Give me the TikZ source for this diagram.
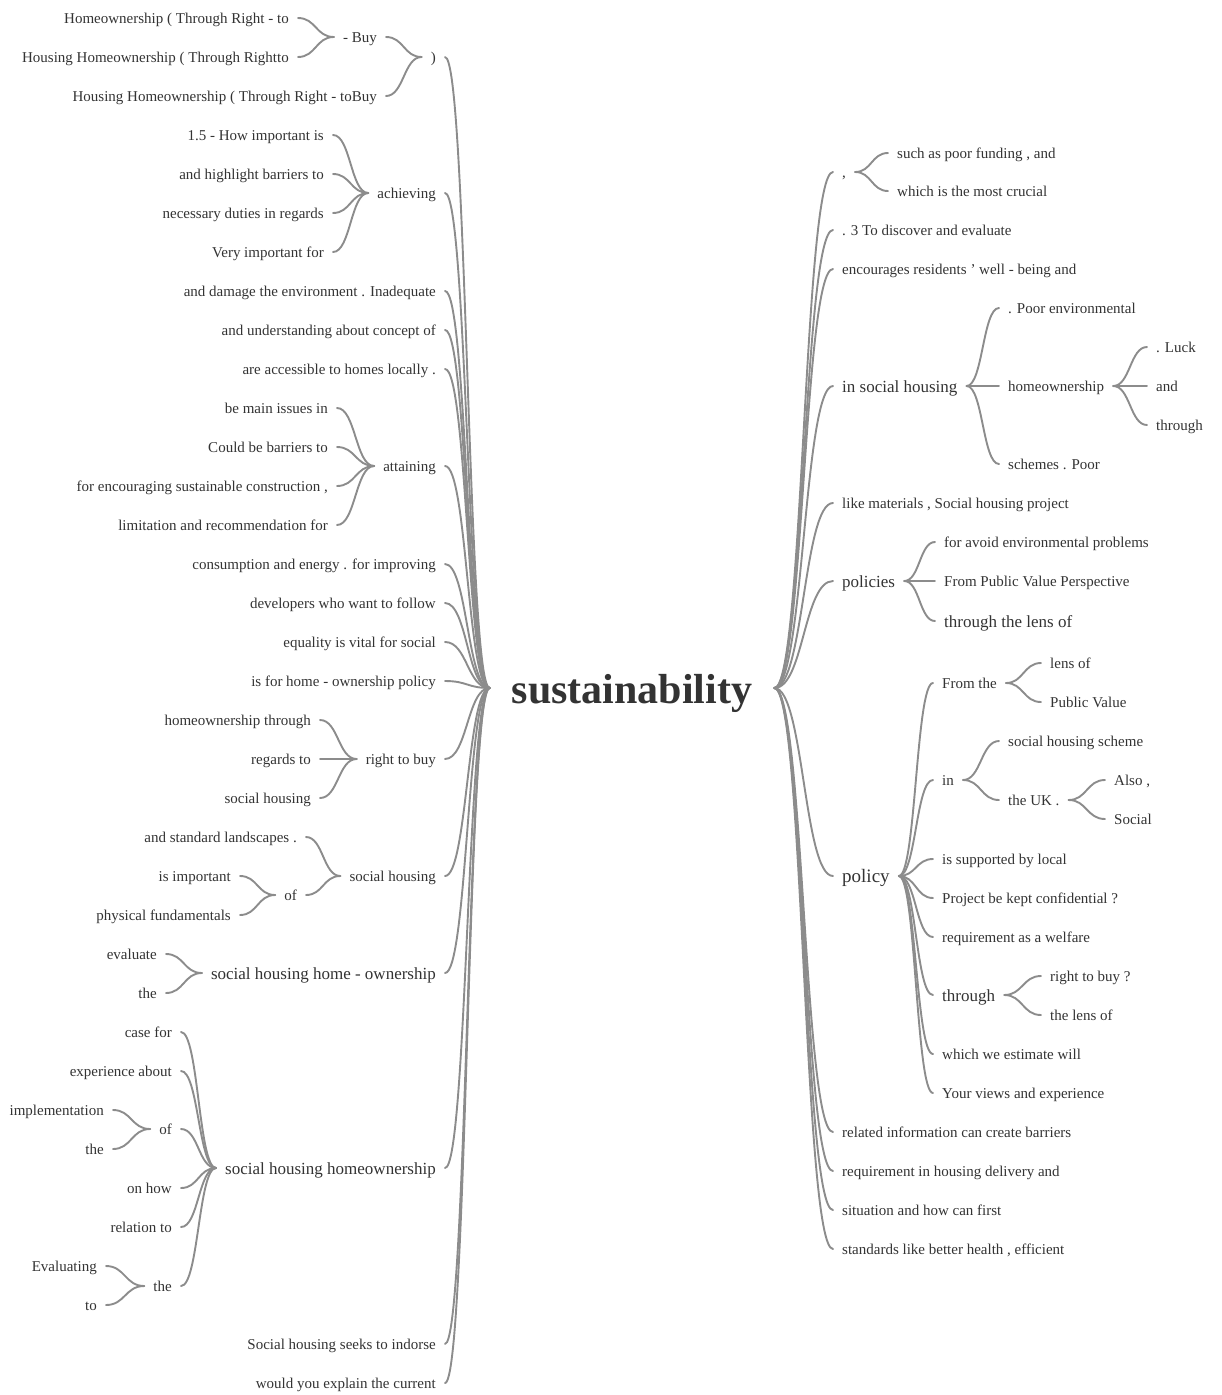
\documentclass[tikz,border=0pt]{standalone}
\usepackage{fontspec}
\setmainfont{Liberation Serif}
\usetikzlibrary{calc}
\definecolor{wordcol}{HTML}{333333}
\definecolor{linkcol}{HTML}{8C8C8C}
\tikzset{
  word/.style={font=\fontsize{15}{17}\selectfont, text=wordcol, inner xsep=9pt, inner ysep=0pt, text height=10.6pt, text depth=0pt},
  wl/.style={word, anchor=east},
  wr/.style={word, anchor=west},
  larger/.style={font=\fontsize{17}{20}\selectfont, text height=12pt},
  largest/.style={font=\fontsize{19}{22}\selectfont, text height=13.4pt},
  branch/.style={draw=linkcol, line width=1.9pt, line cap=round},
}
% cubic link with horizontal tangents at both ends
\newcommand\branchto[2]{%
  \path (#1) coordinate (bA) (#2) coordinate (bB);
  \draw[branch] let \p1=(bA), \p2=(bB) in (\p1) .. controls ({(\x1+\x2)/2},\y1) and ({(\x1+\x2)/2},\y2) .. (\p2);}
\begin{document}
\begin{tikzpicture}[x=1pt,y=-1pt]
\useasboundingbox (0,0) rectangle (1222,1395);

% root
\node[font=\bfseries\fontsize{42}{48}\selectfont, text=wordcol, inner xsep=22pt, inner ysep=0pt, text height=30pt, text depth=0pt] (root) at (632,688) {sustainability};

% ---------- left branch ----------
\node[wl] (L1) at (445,57) {)};
\node[wl] (L2) at (445,193) {achieving};
\node[wl] (L3) at (445,291) {and damage the environment . Inadequate};
\node[wl] (L4) at (445,330) {and understanding about concept of};
\node[wl] (L5) at (445,369) {are accessible to homes locally .};
\node[wl] (L6) at (445,466) {attaining};
\node[wl] (L7) at (445,564) {consumption and energy . for improving};
\node[wl] (L8) at (445,603) {developers who want to follow};
\node[wl] (L9) at (445,642) {equality is vital for social};
\node[wl] (L10) at (445,681) {is for home - ownership policy};
\node[wl] (L11) at (445,759) {right to buy};
\node[wl] (L12) at (445,876) {social housing};
\node[wl,larger] (L13) at (445,973) {social housing home - ownership};
\node[wl,larger] (L14) at (445,1168) {social housing homeownership};
\node[wl] (L15) at (445,1344) {Social housing seeks to indorse};
\node[wl] (L16) at (445,1383) {would you explain the current};

\node[wl] (L1a) at (386,37) {- Buy};
\node[wl] (L1b) at (386,96) {Housing Homeownership ( Through Right - toBuy};
\node[wl] (L1a1) at (298,18) {Homeownership ( Through Right - to};
\node[wl] (L1a2) at (298,57) {Housing Homeownership ( Through Rightto};

\node[wl] (L2a) at (333,135) {1.5 - How important is};
\node[wl] (L2b) at (333,174) {and highlight barriers to};
\node[wl] (L2c) at (333,213) {necessary duties in regards};
\node[wl] (L2d) at (333,252) {Very important for};

\node[wl] (L6a) at (337,408) {be main issues in};
\node[wl] (L6b) at (337,447) {Could be barriers to};
\node[wl] (L6c) at (337,486) {for encouraging sustainable construction ,};
\node[wl] (L6d) at (337,525) {limitation and recommendation for};

\node[wl] (L11a) at (320,720) {homeownership through};
\node[wl] (L11b) at (320,759) {regards to};
\node[wl] (L11c) at (320,798) {social housing};

\node[wl] (L12a) at (306,837) {and standard landscapes .};
\node[wl] (L12b) at (306,895) {of};
\node[wl] (L12b1) at (240,876) {is important};
\node[wl] (L12b2) at (240,915) {physical fundamentals};

\node[wl] (L13a) at (166,954) {evaluate};
\node[wl] (L13b) at (166,993) {the};

\node[wl] (L14a) at (181,1032) {case for};
\node[wl] (L14b) at (181,1071) {experience about};
\node[wl] (L14c) at (181,1129) {of};
\node[wl] (L14d) at (181,1188) {on how};
\node[wl] (L14e) at (181,1227) {relation to};
\node[wl] (L14f) at (181,1286) {the};
\node[wl] (L14c1) at (113,1110) {implementation};
\node[wl] (L14c2) at (113,1149) {the};
\node[wl] (L14f1) at (106,1266) {Evaluating};
\node[wl] (L14f2) at (106,1305) {to};

% ---------- right branch ----------
\node[wr] (R1) at (833,172) {,};
\node[wr] (R2) at (833,230) {. 3 To discover and evaluate};
\node[wr] (R3) at (833,269) {encourages residents ' well - being and};
\node[wr,larger] (R4) at (833,386) {in social housing};
\node[wr] (R5) at (833,503) {like materials , Social housing project};
\node[wr,larger] (R6) at (833,581) {policies};
\node[wr,largest] (R7) at (833,876) {policy};
\node[wr] (R8) at (833,1132) {related information can create barriers};
\node[wr] (R9) at (833,1171) {requirement in housing delivery and};
\node[wr] (R10) at (833,1210) {situation and how can first};
\node[wr] (R11) at (833,1249) {standards like better health , efficient};

\node[wr] (R1a) at (888,153) {such as poor funding , and};
\node[wr] (R1b) at (888,191) {which is the most crucial};

\node[wr] (R4a) at (999,308) {. Poor environmental};
\node[wr] (R4b) at (999,386) {homeownership};
\node[wr] (R4c) at (999,464) {schemes . Poor};
\node[wr] (R4b1) at (1147,347) {. Luck};
\node[wr] (R4b2) at (1147,386) {and};
\node[wr] (R4b3) at (1147,425) {through};

\node[wr] (R6a) at (935,542) {for avoid environmental problems};
\node[wr] (R6b) at (935,581) {From Public Value Perspective};
\node[wr,larger] (R6c) at (935,621) {through the lens of};

\node[wr] (R7a) at (933,683) {From the};
\node[wr] (R7b) at (933,780) {in};
\node[wr] (R7c) at (933,859) {is supported by local};
\node[wr] (R7d) at (933,898) {Project be kept confidential ?};
\node[wr] (R7e) at (933,937) {requirement as a welfare};
\node[wr,larger] (R7f) at (933,995) {through};
\node[wr] (R7g) at (933,1054) {which we estimate will};
\node[wr] (R7h) at (933,1093) {Your views and experience};

\node[wr] (R7a1) at (1041,663) {lens of};
\node[wr] (R7a2) at (1041,702) {Public Value};
\node[wr] (R7b1) at (999,741) {social housing scheme};
\node[wr] (R7b2) at (999,800) {the UK .};
\node[wr] (R7b21) at (1105,780) {Also ,};
\node[wr] (R7b22) at (1105,819) {Social};
\node[wr] (R7f1) at (1041,976) {right to buy ?};
\node[wr] (R7f2) at (1041,1015) {the lens of};

% ---------- links ----------
\foreach \nd in {L1,L2,L3,L4,L5,L6,L7,L8,L9,L10,L11,L12,L13,L14,L15,L16}
  {\branchto{root.west}{\nd.east}}
\foreach \pa/\ch in {L1/L1a,L1/L1b,L1a/L1a1,L1a/L1a2,
  L2/L2a,L2/L2b,L2/L2c,L2/L2d,
  L6/L6a,L6/L6b,L6/L6c,L6/L6d,
  L11/L11a,L11/L11b,L11/L11c,
  L12/L12a,L12/L12b,L12b/L12b1,L12b/L12b2,
  L13/L13a,L13/L13b,
  L14/L14a,L14/L14b,L14/L14c,L14/L14d,L14/L14e,L14/L14f,
  L14c/L14c1,L14c/L14c2,L14f/L14f1,L14f/L14f2}
  {\branchto{\pa.west}{\ch.east}}

\foreach \nd in {R1,R2,R3,R4,R5,R6,R7,R8,R9,R10,R11}
  {\branchto{root.east}{\nd.west}}
\foreach \pa/\ch in {R1/R1a,R1/R1b,
  R4/R4a,R4/R4b,R4/R4c,R4b/R4b1,R4b/R4b2,R4b/R4b3,
  R6/R6a,R6/R6b,R6/R6c,
  R7/R7a,R7/R7b,R7/R7c,R7/R7d,R7/R7e,R7/R7f,R7/R7g,R7/R7h,
  R7a/R7a1,R7a/R7a2,R7b/R7b1,R7b/R7b2,R7b2/R7b21,R7b2/R7b22,
  R7f/R7f1,R7f/R7f2}
  {\branchto{\pa.east}{\ch.west}}
\end{tikzpicture}
\end{document}
